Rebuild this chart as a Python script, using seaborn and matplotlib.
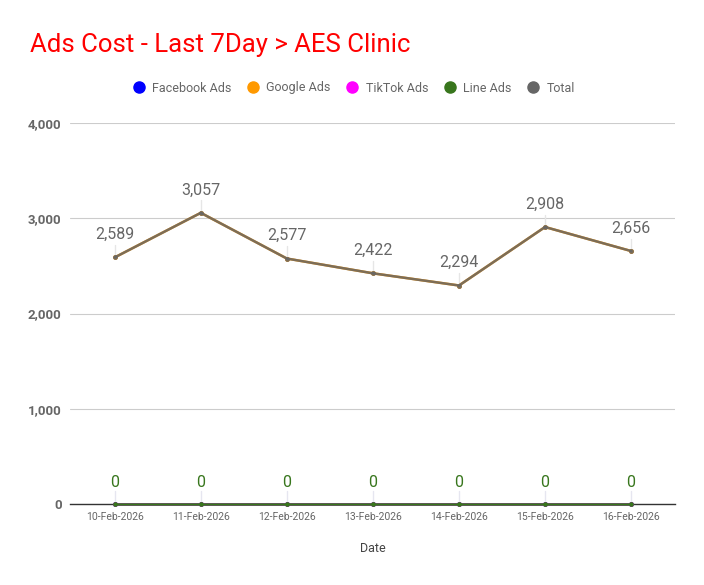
import pandas as pd
import numpy as np
import matplotlib
matplotlib.use("Agg")
import matplotlib.pyplot as plt
import seaborn as sns
from matplotlib.lines import Line2D
from matplotlib.ticker import FuncFormatter

dates = ["10-Feb-2026", "11-Feb-2026", "12-Feb-2026", "13-Feb-2026",
         "14-Feb-2026", "15-Feb-2026", "16-Feb-2026"]
facebook_ads = [0, 0, 0, 0, 0, 0, 0]
google_ads = [2589, 3057, 2577, 2422, 2294, 2908, 2656]
tiktok_ads = [0, 0, 0, 0, 0, 0, 0]
line_ads = [0, 0, 0, 0, 0, 0, 0]
total = [2589, 3057, 2577, 2422, 2294, 2908, 2656]

series_names = ["Facebook Ads", "Google Ads", "TikTok Ads", "Line Ads", "Total"]
series_colors = ["#0000ff", "#ff9900", "#ff00ff", "#38761d", "#666666"]

df = pd.DataFrame({"Date": dates, "Facebook Ads": facebook_ads, "Google Ads": google_ads,
                   "TikTok Ads": tiktok_ads, "Line Ads": line_ads, "Total": total})
df["x"] = range(len(dates))

sns.set_theme(style="white")
plt.rcParams["font.family"] = ["Roboto", "DejaVu Sans"]

fig = plt.figure(figsize=(7.04, 5.85), dpi=100)
ax = fig.add_axes([0.0994, 0.1385, 0.8594, 0.6512])

for name, color in zip(series_names, series_colors):
    alpha = 0.85 if name == "Total" else 1.0
    sns.lineplot(data=df, x="x", y=name, color=color, linewidth=1.8, alpha=alpha,
                 marker="o", markersize=3.5, markeredgewidth=0, ax=ax)
for ln in ax.get_lines():
    ln.set_zorder(4)
    ln.set_clip_on(False)

# data labels with leader lines
for i, v in enumerate(total):
    ax.plot([i, i], [v, v + 130], color="#e6e6e6", linewidth=1, zorder=1)
    ax.text(i, v + 160, f"{v:,}", ha="center", va="bottom", fontsize=11.5, color="#666666")
for i, v in enumerate(line_ads):
    ax.plot([i, i], [v, v + 140], color="#e6e6f0", linewidth=1, zorder=1)
    ax.text(i, v + 150, f"{v:,}", ha="center", va="bottom", fontsize=11.5, color="#38761d")

ax.set_xlim(-0.52, 6.51)
ax.set_ylim(0, 4000)
ax.set_yticks([0, 1000, 2000, 3000, 4000])
ax.yaxis.set_major_formatter(FuncFormatter(lambda v, p: f"{int(v):,}"))
ax.set_xticks(df["x"])
ax.set_xticklabels(dates, fontsize=7.5, color="#666666")
ax.tick_params(axis="y", labelsize=9.5, labelcolor="#666666", length=0, pad=6)
ax.tick_params(axis="x", length=0, pad=6)
for lab in ax.get_yticklabels():
    lab.set_fontweight("bold")
ax.grid(axis="y", color="#cccccc", linewidth=0.8)
ax.set_axisbelow(True)
for s in ["top", "right", "left"]:
    ax.spines[s].set_visible(False)
ax.spines["bottom"].set_color("#333333")
ax.spines["bottom"].set_linewidth(1)
ax.set_xlabel("Date", fontsize=9, color="#444444", labelpad=14)
ax.set_ylabel("")

handles = [Line2D([], [], marker="o", linestyle="", markersize=8, color=c) for c in series_colors]
fig.legend(handles, series_names, loc="center", bbox_to_anchor=(352 / 704, 1 - 88 / 585), ncol=5,
           frameon=False, fontsize=9, labelcolor="#666666", handletextpad=0.3,
           columnspacing=1.0, handlelength=1.5)

fig.text(30 / 704, 1 - 45 / 585, "Ads Cost - Last 7Day > AES Clinic", fontsize=18.5, color="#ff0000",
         ha="left", va="center")

fig.savefig("out.png", dpi=100)
